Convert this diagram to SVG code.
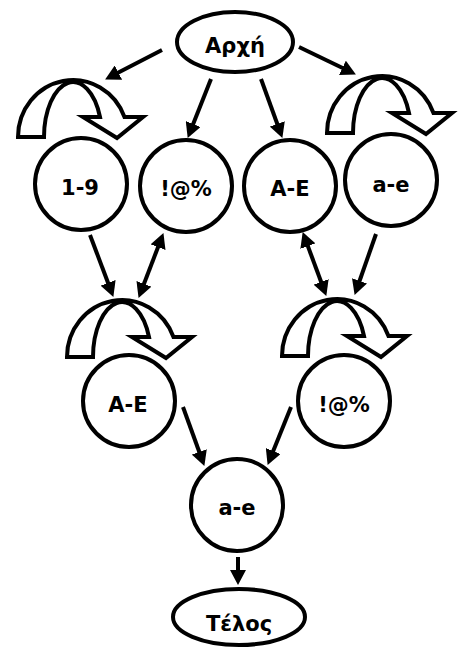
<svg xmlns="http://www.w3.org/2000/svg" width="459" height="650" viewBox="0 0 459 650">
<style>
.n{fill:#fff;stroke:#000;stroke-width:4}
.t{font-family:"DejaVu Sans","Liberation Sans",sans-serif;font-weight:700;font-size:21px;text-anchor:middle;fill:#000}
.c{stroke:#000;stroke-width:4;fill:none}
.u{fill:#fff;stroke:#000;stroke-width:4;stroke-linejoin:miter}
</style>
<defs>
<marker id="ah" markerUnits="userSpaceOnUse" markerWidth="15" markerHeight="16" refX="6" refY="8" orient="auto-start-reverse" viewBox="0 0 15 16">
<path d="M0,0 L15,8 L0,16 z" fill="#000"/>
</marker>
<path id="uturn" d="M18,137 A55,57 0 0 1 124.5,117 L143,117 L117,138 L83,117 L100,117 A29,55 0 0 0 44,137 Z"/>
</defs>
<g id="connectors">
<line class="c" x1="162" y1="50" x2="113.1" y2="75.3" marker-end="url(#ah)"/>
<line class="c" x1="211" y1="79" x2="191" y2="129.6" marker-end="url(#ah)"/>
<line class="c" x1="261" y1="79" x2="279.3" y2="129.5" marker-end="url(#ah)"/>
<line class="c" x1="299" y1="47" x2="347.8" y2="70.5" marker-end="url(#ah)"/>
<line class="c" x1="90" y1="235" x2="110.2" y2="288.5" marker-end="url(#ah)"/>
<line class="c" x1="160.2" y1="241.5" x2="141.8" y2="289.5" marker-start="url(#ah)" marker-end="url(#ah)"/>
<line class="c" x1="305.8" y1="240.5" x2="323.2" y2="287.5" marker-start="url(#ah)" marker-end="url(#ah)"/>
<line class="c" x1="376" y1="234" x2="357.6" y2="286.5" marker-end="url(#ah)"/>
<line class="c" x1="183" y1="407" x2="201.3" y2="457.5" marker-end="url(#ah)"/>
<line class="c" x1="291" y1="407" x2="271" y2="456.6" marker-end="url(#ah)"/>
<line class="c" x1="238" y1="557" x2="238" y2="576" marker-end="url(#ah)"/>
</g>
<g id="start">
<ellipse class="n" cx="235" cy="42" rx="58" ry="30"/>
<text class="t" x="235" y="53">Αρχή</text>
</g>
<g id="n19">
<use href="#uturn" class="u"/>
<circle class="n" cx="81" cy="184" r="46"/>
<text class="t" x="80" y="195">1-9</text>
</g>
<g id="nsym1">
<circle class="n" cx="186" cy="186" r="46"/>
<text class="t" x="186" y="196">!@%</text>
</g>
<g id="nAE1">
<circle class="n" cx="290" cy="186" r="46"/>
<text class="t" x="290" y="196">A-E</text>
</g>
<g id="nae1">
<use href="#uturn" class="u" transform="translate(309,-4)"/>
<circle class="n" cx="391" cy="180" r="46"/>
<text class="t" x="391" y="192">a-e</text>
</g>
<g id="nAE2">
<use href="#uturn" class="u" transform="translate(49,220)"/>
<circle class="n" cx="129" cy="401" r="46"/>
<text class="t" x="128" y="412">A-E</text>
</g>
<g id="nsym2">
<use href="#uturn" class="u" transform="translate(264,219)"/>
<circle class="n" cx="344" cy="401" r="46"/>
<text class="t" x="344" y="412">!@%</text>
</g>
<g id="nae2">
<circle class="n" cx="237" cy="505" r="46"/>
<text class="t" x="237" y="515">a-e</text>
</g>
<g id="end">
<ellipse class="n" cx="239" cy="617" rx="66" ry="28"/>
<text class="t" x="239" y="631">Τέλος</text>
</g>
</svg>
